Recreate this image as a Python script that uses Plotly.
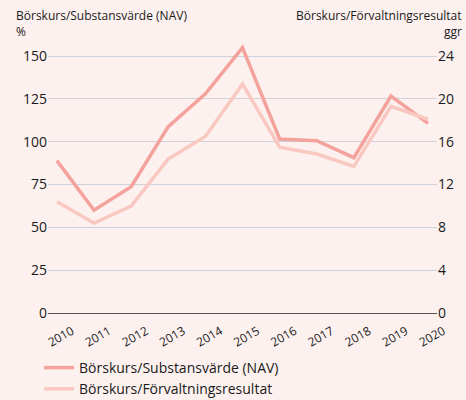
import plotly.graph_objects as go

years = [2010, 2011, 2012, 2013, 2014, 2015, 2016, 2017, 2018, 2019, 2020]
nav = [89, 60, 73.7, 108.8, 128, 155, 101.6, 100.6, 90.7, 126.7, 110.7]
forv = [10.4, 8.4, 10.0, 14.4, 16.5, 21.4, 15.5, 14.85, 13.7, 19.3, 18.1]
left_ticks = [0, 25, 50, 75, 100, 125, 150]
right_ticks = [0, 4, 8, 12, 16, 20, 24]

FONT = "Open Sans"
bg = "#fdf1ef"
c1 = "#f4a29c"
c2 = "#f9c8c1"

fig = go.Figure()
fig.add_trace(go.Scatter(x=years, y=nav, mode="lines", name="Börskurs/Substansvärde (NAV)",
                         line=dict(color=c1, width=3.5), yaxis="y"))
fig.add_trace(go.Scatter(x=years, y=forv, mode="lines", name="Börskurs/Förvaltningsresultat",
                         line=dict(color=c2, width=3.5), yaxis="y2"))

fig.update_layout(
    width=466, height=400,
    margin=dict(l=48, r=29, t=39, b=87),
    paper_bgcolor=bg, plot_bgcolor=bg,
    font=dict(family=FONT, color="#1a1a1a", size=14),
    showlegend=True,
    legend=dict(x=-0.023, y=0.12, yref="container", xanchor="left", yanchor="top",
                font=dict(size=14, family=FONT), bgcolor="rgba(0,0,0,0)",
                tracegroupgap=0, itemwidth=30),
    xaxis=dict(range=[2009.76, 2020.24], tickvals=years, ticktext=[str(y) for y in years],
               tickangle=-30, showgrid=False, zeroline=False, showline=False, automargin=False,
               tickfont=dict(size=12), ticks="", ticklabelshift=15, ticklabelstandoff=8),
    yaxis=dict(range=[0, 160], tickvals=left_ticks, showgrid=True, gridcolor="#cdd2dc",
               gridwidth=1, zeroline=True, zerolinecolor="#555555", zerolinewidth=1,
               tickfont=dict(size=14), ticks="", showline=False, automargin=False),
    yaxis2=dict(range=[0, 25.6], tickvals=right_ticks, overlaying="y", side="right",
                showgrid=False, zeroline=False, tickfont=dict(size=14), ticks="", showline=False,
                automargin=False),
    annotations=[
        dict(text="Börskurs/Substansvärde (NAV)", xref="paper", yref="paper", x=-0.088, y=1.0,
             xanchor="left", yanchor="middle", yshift=24, showarrow=False, font=dict(size=12)),
        dict(text="%", xref="paper", yref="paper", x=-0.088, y=1.0,
             xanchor="left", yanchor="middle", yshift=8, showarrow=False, font=dict(size=12)),
        dict(text="Börskurs/Förvaltningsresultat", xref="paper", yref="paper", x=1.07, y=1.0,
             xanchor="right", yanchor="middle", yshift=24, showarrow=False, font=dict(size=12)),
        dict(text="ggr", xref="paper", yref="paper", x=1.07, y=1.0,
             xanchor="right", yanchor="middle", yshift=8, showarrow=False, font=dict(size=12)),
    ],
)

fig.write_html("out.html", config={"displayModeBar": False},
               post_script="document.body.style.margin='0';document.body.style.overflow='hidden';")
